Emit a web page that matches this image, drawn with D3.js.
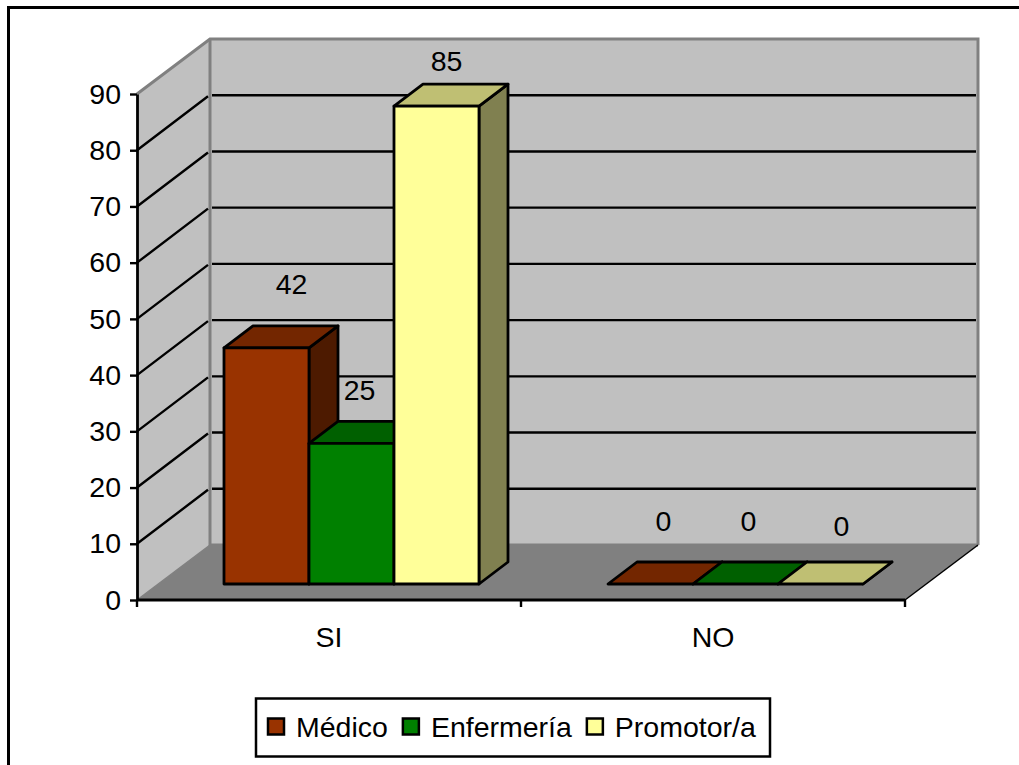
<!DOCTYPE html>
<html>
<head>
<meta charset="utf-8">
<script src="https://cdn.jsdelivr.net/npm/d3@7"></script>
<style>
  html, body { margin: 0; padding: 0; background: #fff; }
  svg { display: block; }
  text { font-family: "Liberation Sans", Arial, sans-serif; fill: #000; }
</style>
</head>
<body>
<script>
let categories = ["SI", "NO"];
let seriesNames = ["Médico", "Enfermería", "Promotor/a"];
let medico = [42, 0];
let enfermeria = [25, 0];
let promotor = [85, 0];
let yTicks = [0, 10, 20, 30, 40, 50, 60, 70, 80, 90];

let colors = ["#993300", "#008000", "#FFFF99"];
let topColors = ["#732600", "#006000", "#BFBF73"];
let sideColors = ["#4D1A00", "#004000", "#808050"];

let w = 1019, h = 765;
let fontSize = 28.5;

// plot box, front face of the floor and how far the back wall is pushed
let left = 137, right = 905, top90 = 94, bottom = 600;
let wallDx = 73, wallDy = -55;

// bars stand a little in from the front edge of the floor
let barLift = 16;
let barDx = 29, barDy = -22;

// hand placed value labels, same order as the bars: [dx, dy] from the front top corner centre
let labelNudge = [
  [[25, -64], [8, -53], [10, -45]],
  [[13, -63], [13, -63], [21, -58]]
];

let svg = d3.select("body").append("svg")
  .attr("width", w)
  .attr("height", h);

let yScale = d3.scaleLinear().domain([0, 90]).range([bottom, top90]);
let xScale = d3.scaleBand().domain(categories).range([left, right]);
let barScale = d3.scaleBand().domain(d3.range(seriesNames.length)).range([87, 342]);

let seriesValues = [medico, enfermeria, promotor];

// outer frame, only top and left fall inside the page
svg.append("path")
  .attr("d", "M8.5," + h + "V7.5H" + w)
  .attr("fill", "none")
  .attr("stroke", "#000")
  .attr("stroke-width", 3);

// walls and floor
let yMax = yScale(90);
let pts = (a) => a.map((p) => p.join(",")).join(" ");

svg.append("polygon")
  .attr("points", pts([[left, yMax], [left + wallDx, yMax + wallDy], [left + wallDx, bottom + wallDy], [left, bottom]]))
  .attr("fill", "#C0C0C0");
svg.append("rect")
  .attr("x", left + wallDx).attr("y", yMax + wallDy)
  .attr("width", right - left).attr("height", bottom - yMax)
  .attr("fill", "#C0C0C0");
svg.append("polygon")
  .attr("points", pts([[left, bottom], [left + wallDx, bottom + wallDy], [right + wallDx, bottom + wallDy], [right, bottom]]))
  .attr("fill", "#808080");

// gray wall edges
svg.append("path")
  .attr("d", "M" + left + "," + yMax + "L" + (left + wallDx) + "," + (yMax + wallDy) + "H" + (right + wallDx) + "V" + (bottom + wallDy))
  .attr("fill", "none").attr("stroke", "#808080").attr("stroke-width", 3);
svg.append("path")
  .attr("d", "M" + (left + wallDx) + "," + (yMax + wallDy) + "V" + (bottom + wallDy) + "H" + (right + wallDx))
  .attr("fill", "none").attr("stroke", "#808080").attr("stroke-width", 3);
svg.append("line")
  .attr("x1", left).attr("y1", bottom)
  .attr("x2", left + wallDx).attr("y2", bottom + wallDy)
  .attr("stroke", "#808080").attr("stroke-width", 1.5);

// gridlines, the top value is already the gray edge of the walls
svg.selectAll(".grid")
  .data(yTicks.filter((d) => d > 0 && d < 90))
  .enter().append("path")
  .attr("class", "grid")
  .attr("d", (d) => "M" + left + "," + yScale(d) + "L" + (left + wallDx - 2) + "," + (yScale(d) + wallDy + 1) + "M" + (left + wallDx + 2) + "," + (yScale(d) + wallDy) + "H" + (right + wallDx - 2))
  .attr("fill", "none")
  .attr("stroke", "#000")
  .attr("stroke-width", 2.4);

// floor edges
svg.append("line")
  .attr("x1", right).attr("y1", bottom)
  .attr("x2", right + wallDx).attr("y2", bottom + wallDy)
  .attr("stroke", "#000").attr("stroke-width", 1.5);

// bars
let bars = [];
categories.forEach((c, ci) => {
  seriesNames.forEach((s, si) => {
    bars.push({ ci: ci, si: si, value: seriesValues[si][ci] });
  });
});

let base = bottom - barLift;
let barH = (d) => bottom - yScale(d.value);
let barX = (d) => xScale(categories[d.ci]) + barScale(d.si);
let bw = barScale.bandwidth();

let barG = svg.selectAll(".bar")
  .data(bars)
  .enter().append("g")
  .attr("class", "bar")
  .attr("stroke", "#000")
  .attr("stroke-width", 2.8)
  .attr("stroke-linejoin", "round");

barG.append("polygon")
  .attr("points", (d) => {
    let x = barX(d) + bw, yt = base - barH(d);
    return pts([[x, yt], [x + barDx, yt + barDy], [x + barDx, base + barDy], [x, base]]);
  })
  .attr("fill", (d) => sideColors[d.si]);

barG.append("polygon")
  .attr("points", (d) => {
    let x = barX(d), yt = base - barH(d);
    return pts([[x, yt], [x + barDx, yt + barDy], [x + bw + barDx, yt + barDy], [x + bw, yt]]);
  })
  .attr("fill", (d) => topColors[d.si]);

barG.filter((d) => d.value > 0).append("rect")
  .attr("x", barX)
  .attr("y", (d) => base - barH(d))
  .attr("width", bw)
  .attr("height", barH)
  .attr("fill", (d) => colors[d.si]);

// value labels
svg.selectAll(".val")
  .data(bars)
  .enter().append("text")
  .attr("class", "val")
  .attr("x", (d) => barX(d) + bw / 2 + labelNudge[d.ci][d.si][0])
  .attr("y", (d) => base - barH(d) + labelNudge[d.ci][d.si][1])
  .attr("dy", "0.35em")
  .attr("text-anchor", "middle")
  .attr("font-size", fontSize)
  .text((d) => d.value);

// axes
let yAxis = d3.axisLeft(yScale).tickValues(yTicks).tickSize(7).tickPadding(9).tickSizeOuter(0);
let yG = svg.append("g")
  .attr("transform", "translate(" + left + ",0)")
  .call(yAxis);
yG.select(".domain").attr("stroke-width", 2.8);
yG.selectAll(".tick line").attr("stroke-width", 2.4);
yG.selectAll("text").attr("font-size", fontSize).attr("font-family", "Liberation Sans");

let xAxis = d3.axisBottom(xScale).tickSize(0).tickPadding(27);
let xG = svg.append("g")
  .attr("transform", "translate(0," + bottom + ")")
  .call(xAxis);
xG.select(".domain").attr("stroke-width", 2.8).attr("d", "M" + left + ",0H" + right);
xG.selectAll("text").attr("font-size", fontSize).attr("font-family", "Liberation Sans");

// ticks sit between the categories, not under them
svg.selectAll(".xtick")
  .data(d3.range(categories.length + 1))
  .enter().append("line")
  .attr("class", "xtick")
  .attr("x1", (i) => left + i * xScale.step())
  .attr("x2", (i) => left + i * xScale.step())
  .attr("y1", bottom)
  .attr("y2", bottom + 7)
  .attr("stroke", "#000")
  .attr("stroke-width", 2.4);

// legend
let legend = svg.append("g");
legend.append("rect")
  .attr("x", 256).attr("y", 698.5)
  .attr("width", 514).attr("height", 58)
  .attr("fill", "#fff")
  .attr("stroke", "#000")
  .attr("stroke-width", 2.5);

let lx = 268;
seriesNames.forEach((name, i) => {
  legend.append("rect")
    .attr("x", lx).attr("y", 718.5)
    .attr("width", 16).attr("height", 16)
    .attr("fill", colors[i])
    .attr("stroke", "#000")
    .attr("stroke-width", 2.5);
  let t = legend.append("text")
    .attr("x", lx + 28)
    .attr("y", 737)
    .attr("font-size", fontSize)
    .text(name);
  lx += 28 + t.node().getComputedTextLength() + 15;
});
</script>
</body>
</html>
